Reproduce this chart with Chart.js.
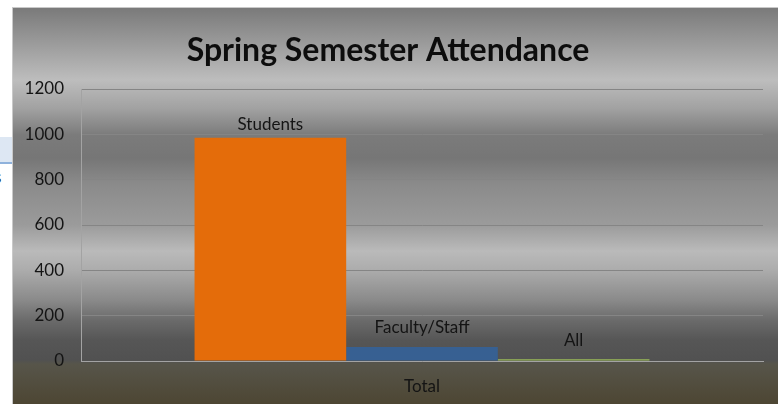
<!DOCTYPE html>
<html>
<head>
<meta charset="utf-8">
<script src="https://cdn.jsdelivr.net/npm/chart.js@4.4.1/dist/chart.umd.min.js"></script>
<style>
    html, body { margin: 0; padding: 0; background: #ffffff; }
    body { width: 778px; height: 404px; position: relative; overflow: hidden; font-family: Lato, sans-serif; }
    #cell { position: absolute; left: 0; top: 137px; width: 12px; height: 25px; background: #dde7f3; border-bottom: 2px solid #8fb2dc; }
    #cellText { position: absolute; left: 0; top: 166px; width: 4px; height: 22px; overflow: hidden; }
    #cellText span { position: absolute; left: -6px; top: 0; font-size: 17px; color: #222; }
    #frame { position: absolute; left: 12px; top: 7px; width: 766px; height: 397px; border-top: 1px solid #c9c9c9; border-left: 1px solid #c9c9c9; box-sizing: border-box; }
    #chart { display: block; }
</style>
</head>
<body>
<div id="cell"></div>
<div id="cellText"><span>s</span></div>
<div id="frame"><canvas id="chart" width="765" height="396"></canvas></div>
<script>
const categories = ['Total'];
const seriesNames = ['Students', 'Faculty/Staff', 'All'];
const students = [985];
const facultyStaff = [62];
const all = [8];
const yTicks = [0, 200, 400, 600, 800, 1000, 1200];

const seriesColors = ['#e46c0a', '#376092', '#9bbb59'];
const labelOffsets = [13, 19, 19];

// background gradient, stops (canvas y / height)
const backgroundPlugin = {
    id: 'background',
    beforeDraw(chart) {
        const ctx = chart.ctx;
        const h = chart.height;
        const g = ctx.createLinearGradient(0, 0, 0, h);
        const stops = [
            [0, '#7a7a7a'], [72, '#bdbdbd'], [100, '#a2a2a2'], [127, '#7b7b7b'],
            [150, '#767676'], [175, '#8a8a8a'], [217, '#9b9b9b'], [243, '#bababa'],
            [262, '#acacac'], [292, '#8a8a8a'], [312, '#6b6b6b'], [332, '#565656'],
            [352, '#515151'], [356, '#57554a'], [396, '#4d4633']
        ];
        stops.forEach(([y, c]) => g.addColorStop(y / h, c));
        ctx.save();
        ctx.fillStyle = g;
        ctx.fillRect(0, 0, chart.width, h);
        ctx.restore();
    }
};

// series name written above each bar
const barLabelPlugin = {
    id: 'barLabels',
    afterDatasetsDraw(chart) {
        const ctx = chart.ctx;
        ctx.save();
        ctx.font = '17px Lato';
        ctx.fillStyle = '#141414';
        ctx.textAlign = 'center';
        ctx.textBaseline = 'middle';
        chart.data.datasets.forEach((ds, i) => {
            const bar = chart.getDatasetMeta(i).data[0];
            ctx.fillText(ds.label, bar.x, bar.y - labelOffsets[i]);
        });
        ctx.restore();
    }
};

const values = [students, facultyStaff, all];

new Chart(document.getElementById('chart'), {
    type: 'bar',
    data: {
        labels: categories,
        datasets: seriesNames.map((name, i) => ({
            label: name,
            data: values[i],
            backgroundColor: seriesColors[i],
            borderWidth: 0,
            categoryPercentage: 0.667,
            barPercentage: 1
        }))
    },
    options: {
        responsive: false,
        animation: false,
        events: [],
        layout: { padding: { left: 0, right: 15, top: 0, bottom: 0 } },
        plugins: {
            legend: { display: false },
            tooltip: { enabled: false },
            title: {
                display: true,
                text: 'Spring Semester Attendance',
                color: '#0d0d0d',
                font: { family: 'Lato', size: 32, weight: 'bold', lineHeight: 1.2 },
                padding: { top: 23, bottom: 19.6 }
            }
        },
        scales: {
            x: {
                grid: { display: false, drawTicks: false },
                border: { display: true, color: '#a3a3a3', width: 1 },
                ticks: { color: '#141414', font: { family: 'Lato', size: 17 }, padding: 15 },
                afterFit(scale) { scale.height = 43; }
            },
            y: {
                min: 0,
                max: 1200,
                afterBuildTicks(scale) { scale.ticks = yTicks.map(v => ({ value: v })); },
                grid: { color: '#858585', lineWidth: 1, drawTicks: false },
                border: { display: true, color: '#a3a3a3', width: 1 },
                ticks: {
                    color: '#141414',
                    font: { family: 'Lato', size: 17 },
                    padding: 17,
                    callback: (value) => String(value)
                },
                afterFit(scale) { scale.width = 68; }
            }
        }
    },
    plugins: [backgroundPlugin, barLabelPlugin]
});
</script>
</body>
</html>
